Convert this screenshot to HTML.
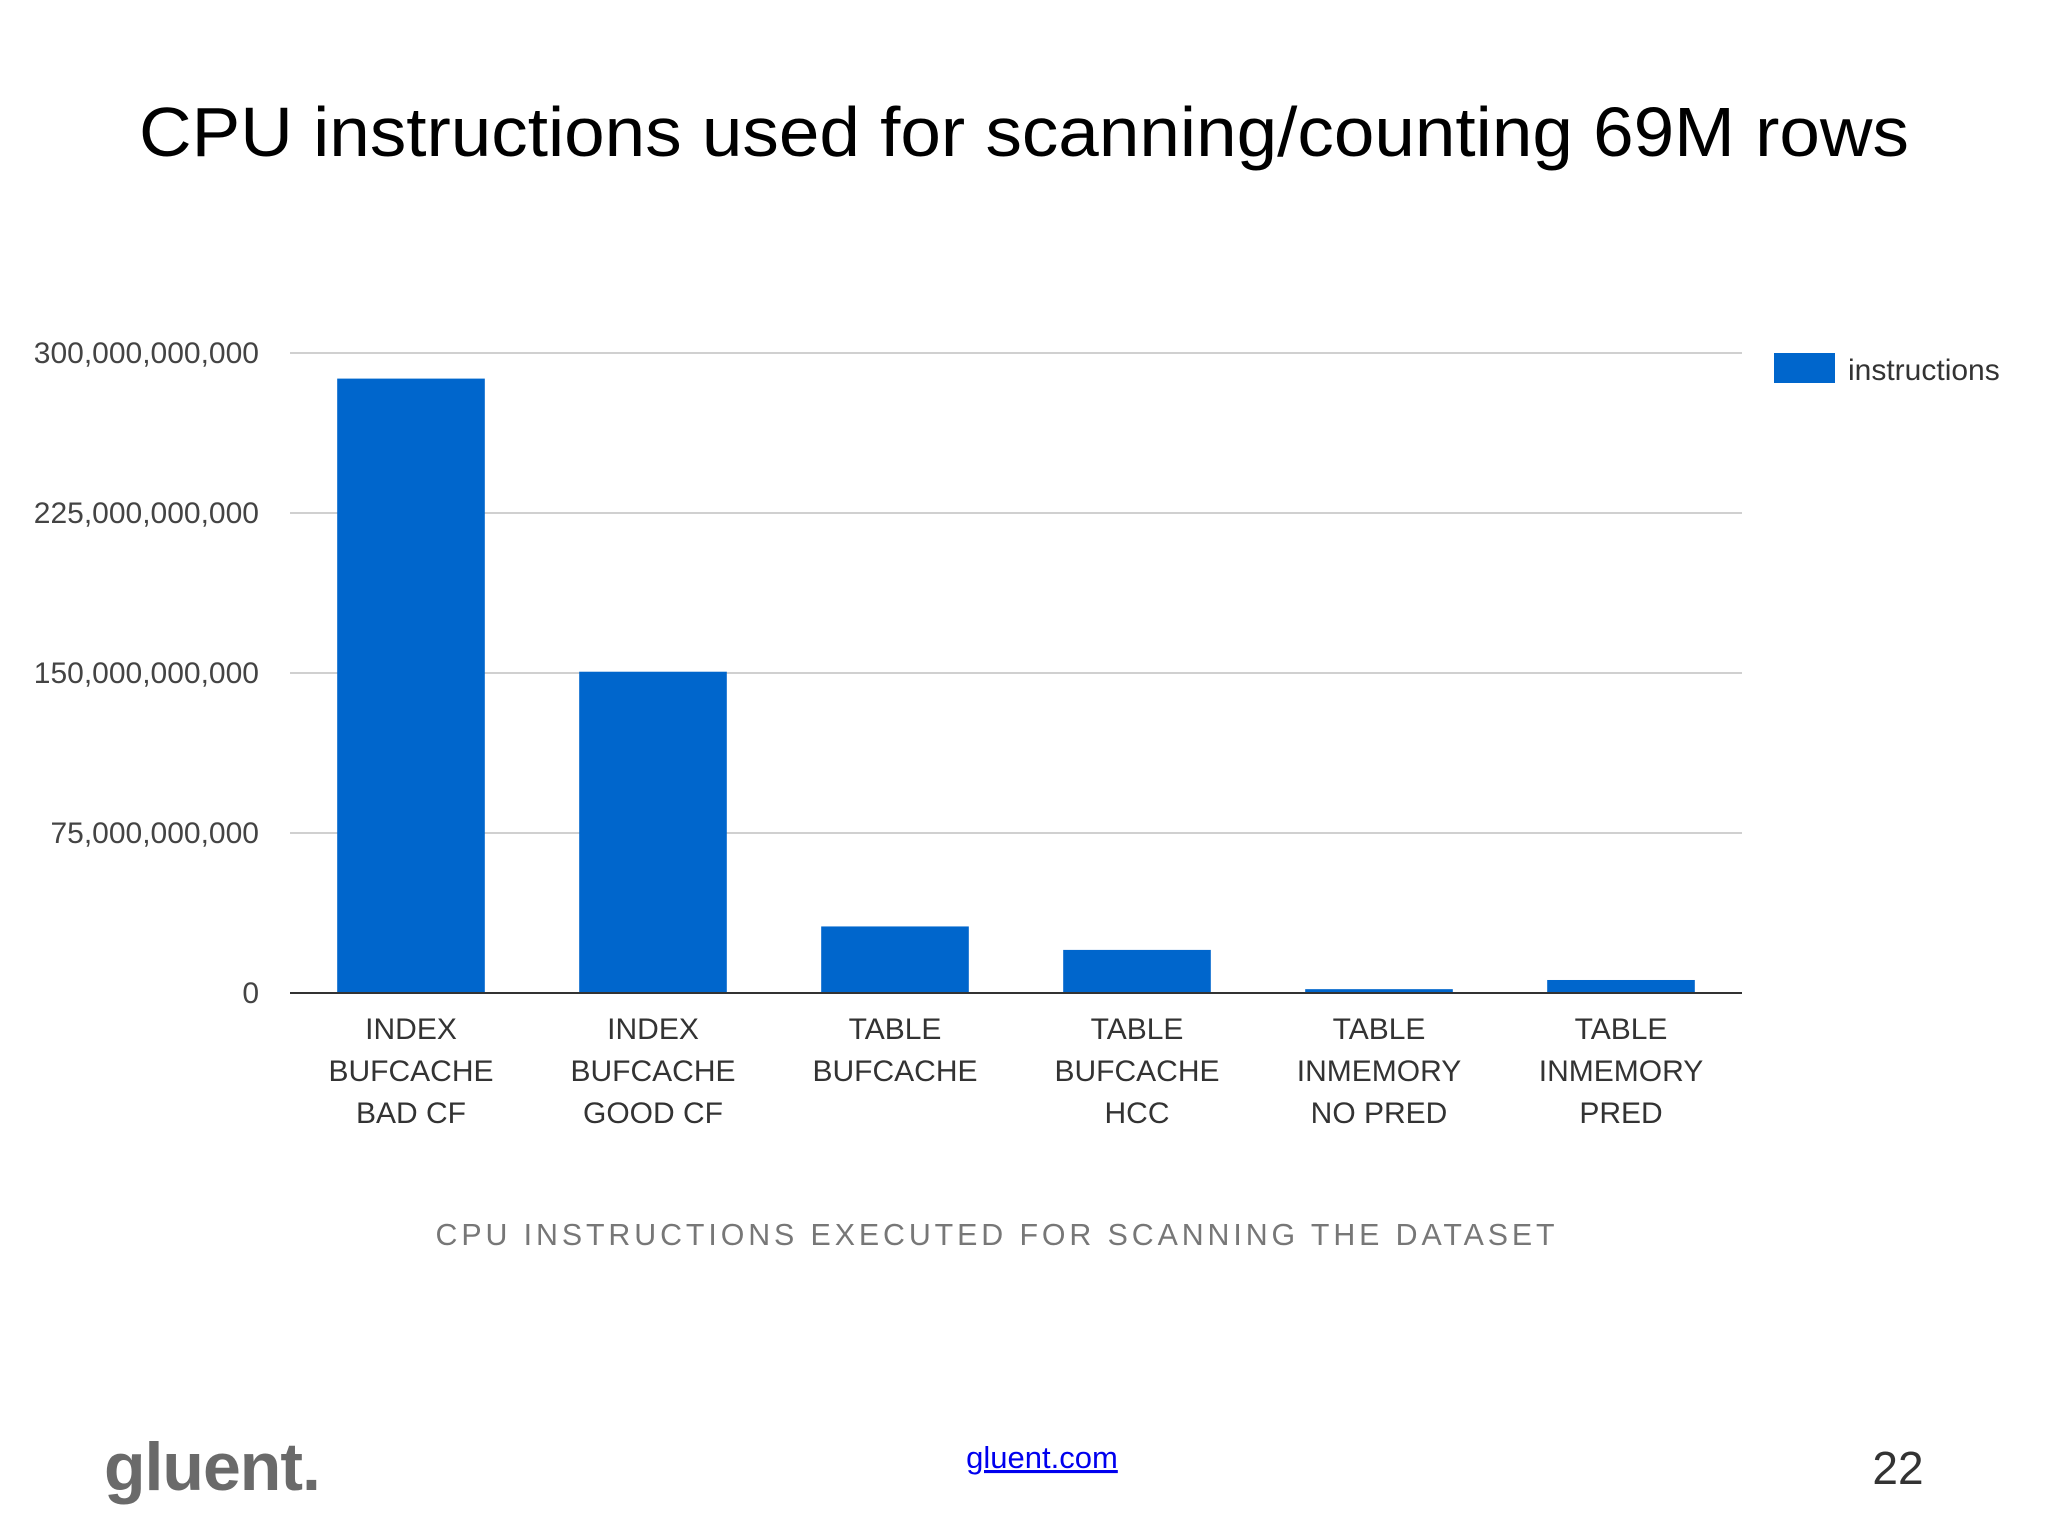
<!DOCTYPE html>
<html><head><meta charset="utf-8"><style>
html,body{margin:0;padding:0;background:#fff;}
svg{display:block;}
</style></head><body>
<svg width="2048" height="1536" viewBox="0 0 2048 1536" xmlns="http://www.w3.org/2000/svg" font-family="Liberation Sans, sans-serif">
<text x="1024" y="156" text-anchor="middle" font-size="70" fill="#000" textLength="1770" lengthAdjust="spacingAndGlyphs">CPU instructions used for scanning/counting 69M rows</text>
<g id="chart"></g>
<rect x="1774" y="353" width="61" height="30" fill="#0066cc"/>
<text x="1848" y="380" font-size="30" fill="#333">instructions</text>
<text x="997" y="1245" text-anchor="middle" font-size="31" fill="#777" letter-spacing="4" textLength="1123" lengthAdjust="spacingAndGlyphs">CPU INSTRUCTIONS EXECUTED FOR SCANNING THE DATASET</text>
<text x="104" y="1490" font-size="68" font-weight="bold" fill="#6a6a6a" letter-spacing="-1">gluent.</text>
<a href="#"><text x="1042" y="1468" text-anchor="middle" font-size="31" fill="#0000ee" text-decoration="underline">gluent.com</text></a>
<text x="1898" y="1484" text-anchor="middle" font-size="46" fill="#333">22</text>
</svg>
<script>
const categories=[["INDEX","BUFCACHE","BAD CF"],["INDEX","BUFCACHE","GOOD CF"],["TABLE","BUFCACHE"],["TABLE","BUFCACHE","HCC"],["TABLE","INMEMORY","NO PRED"],["TABLE","INMEMORY","PRED"]];
const values=[288e9,150.6e9,31.2e9,20.2e9,1.8e9,6.1e9];
const ticks=[0,75e9,150e9,225e9,300e9];
const tickLabels=["0","75,000,000,000","150,000,000,000","225,000,000,000","300,000,000,000"];
const NS="http://www.w3.org/2000/svg";
const g=document.getElementById('chart');
const L=290,R=1742,T=353,B=993,maxV=300e9;
const y=v=>B-(v/maxV)*(B-T);
const band=(R-L)/categories.length;
const xc=i=>L+band*(i+0.5);
function mk(tag,attrs){const e=document.createElementNS(NS,tag);for(const k in attrs)e.setAttribute(k,attrs[k]);g.appendChild(e);return e;}
ticks.forEach((t,i)=>{
 if(t>0){const l=mk('line',{x1:L,x2:R,y1:y(t),y2:y(t),stroke:'#d0d0d0','stroke-width':2});
 
 }
 const tx=mk('text',{x:259,y:y(t)+10,'text-anchor':'end','font-size':30,fill:'#444'});
 tx.textContent=tickLabels[i];
 
 
});
values.forEach((v,i)=>{
 const w=band*0.61;
 const r=mk('rect',{x:xc(i)-w/2,y:y(v),width:w,height:B-y(v),fill:'#0066cc'});
 
 
 categories[i].forEach((s,j)=>{
  const t=mk('text',{x:xc(i),y:1039+j*42,'text-anchor':'middle','font-size':30,fill:'#333'});
  t.textContent=s;
  
  
 });
});
const ax=mk('line',{x1:L,x2:R,y1:B,y2:B,stroke:'#333','stroke-width':2});


</script>
</body></html>
